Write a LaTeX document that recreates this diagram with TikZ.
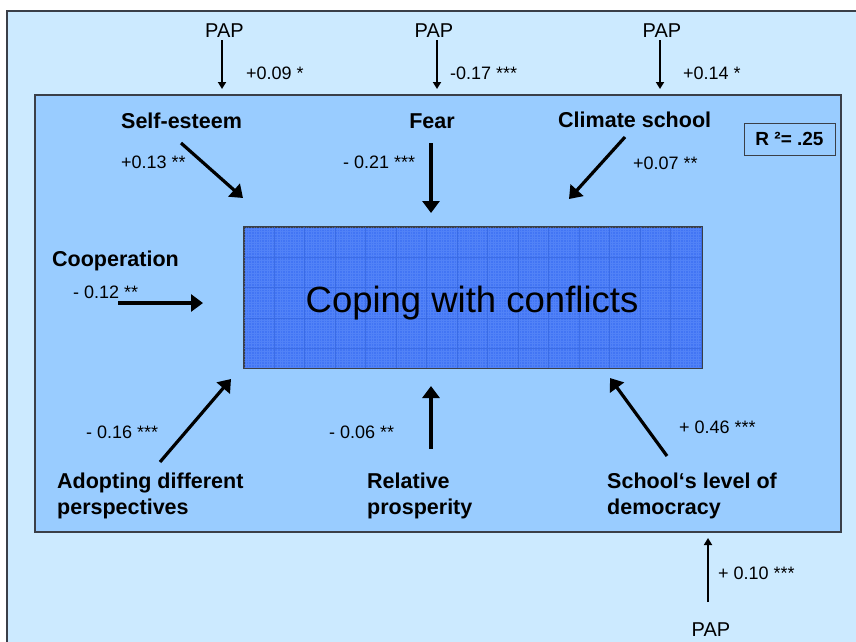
\documentclass[tikz,border=0pt]{standalone}
\usepackage{fontspec}
\setmainfont{Liberation Sans}
\usetikzlibrary{arrows.meta}

\definecolor{outerbg}{HTML}{CCEAFF}
\definecolor{innerbg}{HTML}{99CCFF}
\definecolor{corebg}{HTML}{4275F4}
\definecolor{coretex}{HTML}{6D9BFF}
\definecolor{coreline}{HTML}{3567E0}
\definecolor{framecol}{HTML}{3A3F48}

\tikzset{
  frame/.style={draw=framecol, line width=1.1pt},
  coef/.style={anchor=base west, inner sep=0pt, font=\fontsize{18}{21}\selectfont},
  factor/.style={anchor=base west, inner sep=0pt, align=left,
                 font=\fontsize{21.5}{26}\selectfont\bfseries},
  pap/.style={anchor=base, inner sep=0pt, font=\fontsize{20}{24}\selectfont},
  effect/.style={line width=3.2pt, -{Triangle[length=12pt,width=17pt]}},
  papeffect/.style={line width=1.8pt, -{Triangle[length=7pt,width=8pt]}},
  corebox/.style={draw=framecol, line width=1pt, fill=corebg, inner sep=0pt,
                  minimum width=458pt, minimum height=141pt},
}

\begin{document}
\begin{tikzpicture}[x=1pt,y=-1pt]
\useasboundingbox (0,0) rectangle (856,641);
\fill[white] (0,0) rectangle (856,641);

% outer and inner panels
\draw[frame, fill=outerbg] (7,11) rectangle (864,650);
\draw[frame, fill=innerbg] (35,95) rectangle (841,532);

% central construct with its textured fill
\node[corebox] (core) at (473,297.5) {};
\begin{scope}
  \clip (core.north west) rectangle (core.south east);
  \draw[coretex, opacity=0.35, line width=0.6pt, step=2.6pt, shift={(core.north west)}]
       (0,0) grid (460,145);
  \draw[coreline, opacity=0.75, line width=0.9pt, step=30.5pt, shift={(core.north west)}]
       (0,0) grid (460,145);
\end{scope}
\draw[framecol, line width=1pt] (core.north west) rectangle (core.south east);
\node[anchor=base, inner sep=0pt, font=\fontsize{36.5}{40}\selectfont] (coretext)
     at (472,312) {Coping with conflicts};

% explained variance
\node[draw=framecol, line width=1pt, inner sep=0pt, minimum width=91pt,
      minimum height=32pt, font=\fontsize{19}{22}\selectfont\bfseries] (rsq)
     at (789.5,139) {R ²= .25};

% PAP moderators on top
\node[pap] (pap1) at (224.5,37) {PAP};
\node[pap] (pap2) at (434,37) {PAP};
\node[pap] (pap3) at (662,37) {PAP};
\coordinate (p1s) at (222,40);  \coordinate (p1t) at (222,89);
\coordinate (p2s) at (437,40);  \coordinate (p2t) at (437,89);
\coordinate (p3s) at (660,40);  \coordinate (p3t) at (660,89);
\draw[papeffect] (p1s) -- (p1t);
\draw[papeffect] (p2s) -- (p2t);
\draw[papeffect] (p3s) -- (p3t);
\node[coef] (c-p1) at (246,79) {+0.09 *};
\node[coef] (c-p2) at (450,79) {-0.17 ***};
\node[coef] (c-p3) at (683,79) {+0.14 *};

% PAP moderator at the bottom
\node[pap] (pap4) at (711,636) {PAP};
\coordinate (p4s) at (708,602); \coordinate (p4t) at (708,538);
\draw[papeffect] (p4s) -- (p4t);
\node[coef] (c-p4) at (718,579) {+ 0.10 ***};

% predictors (multi-line labels are anchored at their last baseline)
\node[factor] (selfesteem) at (121,128) {Self-esteem};
\node[factor, anchor=base] (fear) at (432,128) {Fear};
\node[factor] (climate) at (558,127) {Climate school};
\node[factor] (coop) at (52,266) {Cooperation};
\node[factor] (adopt) at (57,514) {Adopting different\\perspectives};
\node[factor] (prosp) at (367,514) {Relative\\prosperity};
\node[factor] (democ) at (607,514) {School‘s level of\\democracy};

% path coefficients
\node[coef] (c-se) at (121,168) {+0.13 **};
\node[coef] (c-fe) at (343,168) {- 0.21 ***};
\node[coef] (c-cl) at (633,169) {+0.07 **};
\node[coef] (c-co) at (73,298) {- 0.12 **};
\node[coef] (c-ad) at (86,438) {- 0.16 ***};
\node[coef] (c-pr) at (329,438) {- 0.06 **};
\node[coef] (c-de) at (679,433) {+ 0.46 ***};

% effect arrows towards the central construct
\coordinate (se-s) at (181,143); \coordinate (se-t) at (243,198);
\coordinate (fe-s) at (431,143); \coordinate (fe-t) at (431,213);
\coordinate (cl-s) at (625,137); \coordinate (cl-t) at (569,199);
\coordinate (co-s) at (118,303); \coordinate (co-t) at (203,303);
\coordinate (ad-s) at (160,462); \coordinate (ad-t) at (231,379);
\coordinate (pr-s) at (431,449); \coordinate (pr-t) at (431,386);
\coordinate (de-s) at (667,456); \coordinate (de-t) at (610,378);
\draw[effect] (se-s) -- (se-t);
\draw[effect] (fe-s) -- (fe-t);
\draw[effect] (cl-s) -- (cl-t);
\draw[effect] (co-s) -- (co-t);
\draw[effect] (ad-s) -- (ad-t);
\draw[effect] (pr-s) -- (pr-t);
\draw[effect] (de-s) -- (de-t);
\end{tikzpicture}
\end{document}
